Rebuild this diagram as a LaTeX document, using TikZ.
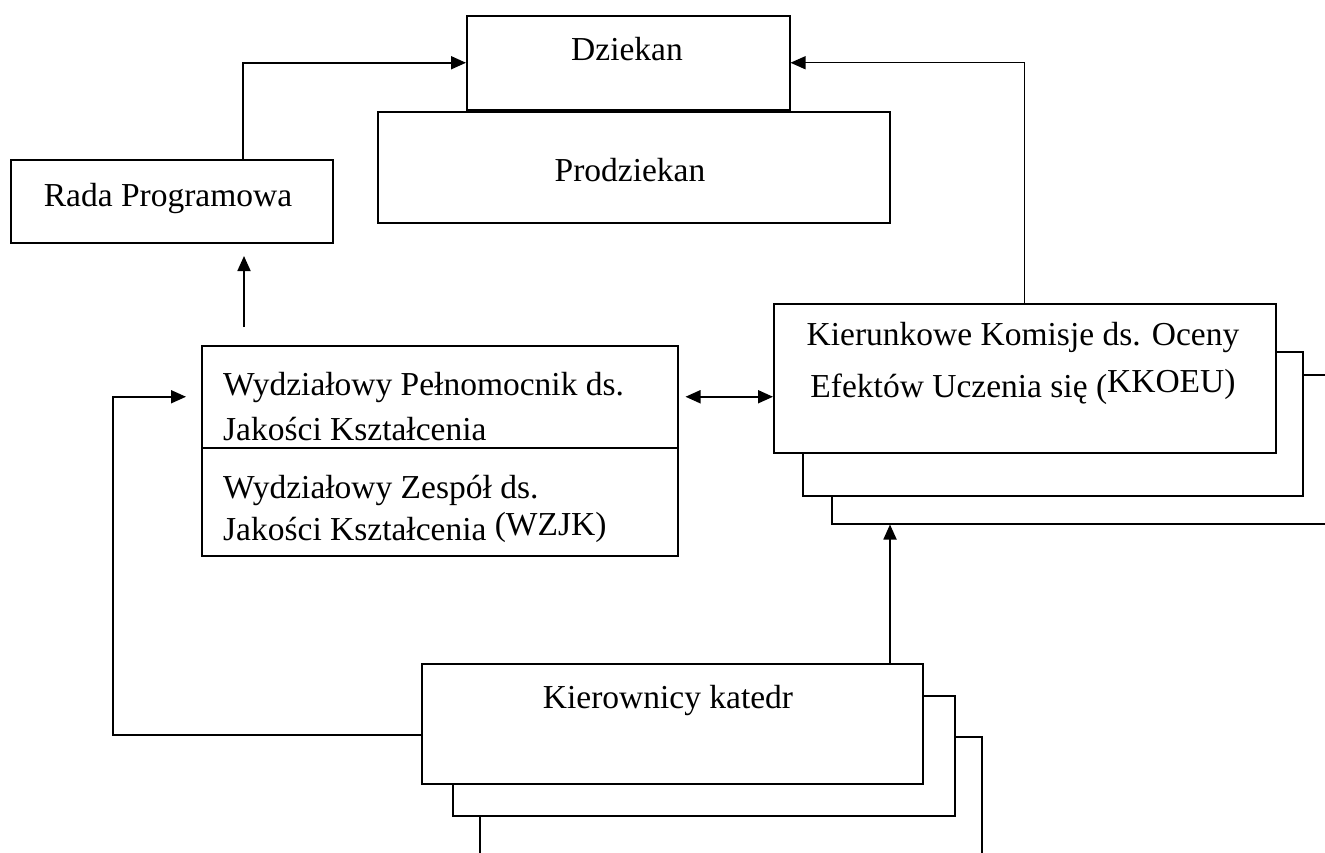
\documentclass[tikz,border=0pt]{standalone}
\usepackage{fontspec}
\setmainfont{Liberation Serif}
\usetikzlibrary{arrows.meta}
\begin{document}
\begin{tikzpicture}[x=1pt,y=-1pt,
  bx/.style={draw, fill=white, line width=1.5pt, inner sep=0pt, anchor=north west},
  txt/.style={inner sep=0pt, font=\fontsize{33.5}{40}\selectfont},
  tip/.style={Triangle[length=15pt,width=13pt]},
  arr/.style={line width=1.8pt, -{Triangle[length=15pt,width=13pt]}},
  arrthin/.style={line width=1.3pt, -{Triangle[length=15pt,width=13pt]}},
  dbl/.style={line width=1.8pt, {Triangle[length=15pt,width=13pt]}-{Triangle[length=15pt,width=13pt]}},
  ln/.style={line width=1.5pt}]
\useasboundingbox (0,0) rectangle (1325,852);
\clip (0,0) rectangle (1325,852);
\fill[white] (0,0) rectangle (1325,852);

% top boxes
\node[bx, minimum width=323pt, minimum height=94pt] (dz) at (466,15) {};
\node[bx, minimum width=512pt, minimum height=111pt] (pd) at (377,111) {};
\node[bx, minimum width=322pt, minimum height=83pt] (rada) at (10,159) {};

% WPJK
\node[bx, minimum width=476pt, minimum height=102pt] (wp1) at (201,345) {};
\node[bx, minimum width=476pt, minimum height=108pt] (wp2) at (201,447) {};

% KKOEU stack
\node[bx, minimum width=520pt, minimum height=149pt] (kk3) at (831,374) {};
\node[bx, minimum width=500pt, minimum height=144pt] (kk2) at (802,351) {};
\node[bx, minimum width=502pt, minimum height=149pt] (kk1) at (773,303) {};

% Kierownicy stack
\node[bx, minimum width=502pt, minimum height=140pt] (kf3) at (479,736) {};
\node[bx, minimum width=502pt, minimum height=120pt] (kf2) at (452,695) {};
\node[bx, minimum width=501pt, minimum height=120pt] (kf1) at (421,663) {};

% texts
\node[txt, anchor=base] (tdz) at (627,60) {Dziekan};
\node[txt, anchor=base] (tpd) at (630,181) {Prodziekan};
\node[txt, anchor=base] (trada) at (168,206) {Rada Programowa};
\node[txt, anchor=base west] (tw1) at (223,395) {Wydziałowy Pełnomocnik ds.};
\node[txt, anchor=base west] (tw2) at (223,440) {Jakości Kształcenia};
\node[txt, anchor=base west] (tw3) at (223,498) {Wydziałowy Zespół ds.};
\node[txt, anchor=base west] (tw4) at (223,540) {Jakości Kształcenia \raisebox{5pt}{(WZJK)}};
\node[txt, anchor=base] (tk1) at (1023,345) {Kierunkowe Komisje ds. Oceny};
\node[txt, anchor=base] (tk2) at (1023,397) {Efektów Uczenia się (\raisebox{5pt}{KKOEU)}};
\node[txt, anchor=base] (tkf) at (668,708) {Kierownicy katedr};

% connectors
\draw[arr] ([xshift=71pt]rada.north) |- (dz.west);
\draw[arrthin] (kk1.north) |- (dz.east);
\coordinate (ru1) at (244,327);
\coordinate (ru2) at (244,256);
\draw[arr] (ru1) -- (ru2);
\draw[dbl] ([xshift=7pt]wp1.east) -- (kk1.west |- wp1.east);
\coordinate (kfu) at (890,663);
\draw[arr] (kfu) -- (kfu |- kk3.south);
\coordinate (kl) at (113,735);
\draw[arr] (kl -| kf1.west) -- (kl) |- ([xshift=-15pt]wp1.west);
\end{tikzpicture}
\end{document}
